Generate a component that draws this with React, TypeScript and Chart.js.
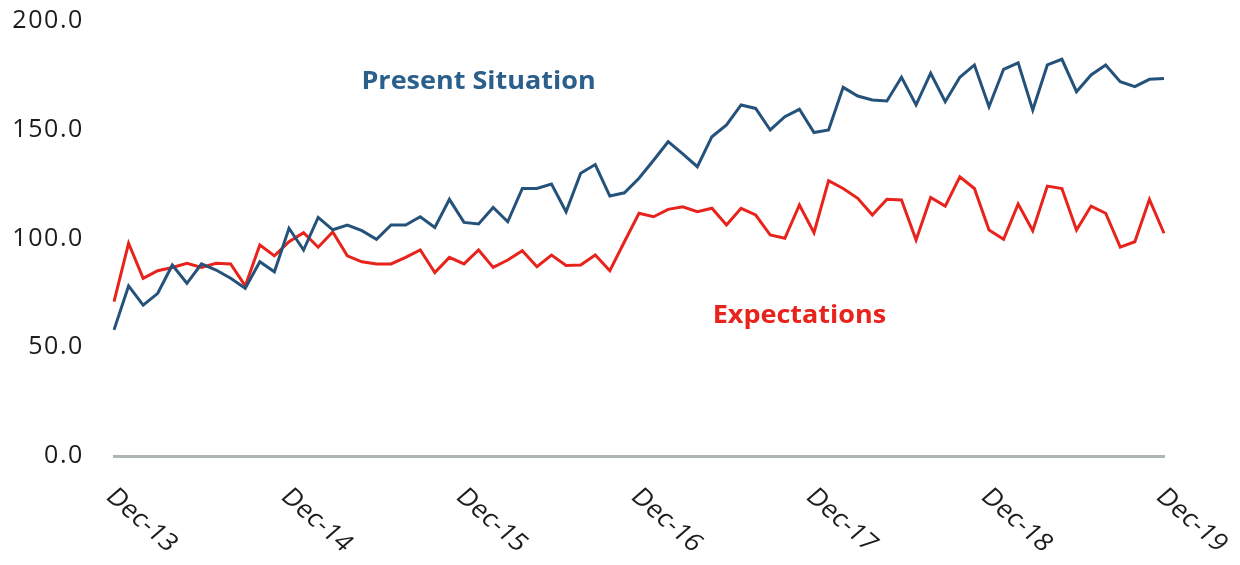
import React, { useEffect, useRef } from 'react';
import { Chart, registerables } from 'chart.js';

Chart.register(...registerables);

const MONTHS = ['Jan', 'Feb', 'Mar', 'Apr', 'May', 'Jun', 'Jul', 'Aug', 'Sep', 'Oct', 'Nov', 'Dec'];
const categories: string[] = [];
for (let i = 0; i < 73; i++) {
  const m = (11 + i) % 12;
  const y = 13 + Math.floor((11 + i) / 12);
  categories.push(`${MONTHS[m]}-${y}`);
}

const xTickLabels = ['Dec-13', 'Dec-14', 'Dec-15', 'Dec-16', 'Dec-17', 'Dec-18', 'Dec-19'];

const presentSituation = [
  58, 78.2, 69.4, 74.8, 87.8, 79.4, 88.3, 85.5, 81.7, 77.1, 89.3, 84.7,
  104.7, 94.7, 109.7, 104, 106.2, 103.6, 99.6, 106.2, 106.2, 110, 105.1, 118,
  107.4, 106.7, 114.3, 107.7, 123, 123, 125, 112.3, 130, 134, 119.5, 121,
  127.7, 136, 144.5, 138.9, 133, 146.8, 152.2, 161.4, 159.8, 149.9, 156, 159.4,
  148.7, 149.9, 169.5, 165.5, 163.7, 163.2, 174.1, 161.4, 176, 162.9, 174.1, 179.8,
  160.6, 177.8, 180.8, 159.1, 179.8, 182.4, 167.5, 175.2, 179.8, 172.1, 169.8, 173.2,
  173.6,
];

const expectations = [
  71, 97.8, 81.7, 85.2, 86.7, 88.6, 86.7, 88.6, 88.3, 78.2, 97, 92,
  98.5, 102.7, 96, 103, 92, 89.3, 88.3, 88.3, 91.3, 94.7, 84.3, 91.3,
  88.3, 94.7, 86.7, 90.1, 94.4, 87, 92.4, 87.6, 87.8, 92.4, 85.2, 98.5,
  111.6, 110, 113.4, 114.6, 112.3, 113.9, 106.2, 113.9, 110.8, 101.6, 100.1, 115.4,
  102.7, 126.6, 123, 118.5, 110.8, 118, 117.7, 99.3, 118.9, 114.9, 128.4, 123,
  103.9, 99.6, 115.9, 103.6, 124.1, 123, 103.9, 114.9, 111.6, 96, 98.5, 118,
  102.4,
];

const seriesNames = ['Present Situation', 'Expectations'];
const seriesColors = ['#25527a', '#e8231c'];
const labelColors = ['#2b5f8c', '#e8231c'];
// annotation anchors in data coordinates: [category index, value]
const labelAnchors = [
  [25, 172],
  [47, 64.5],
];

const yMin = 0;
const yMax = 200;
const yStep = 50;

const STRETCH = 1.15;

const customText = {
  id: 'customText',
  beforeDraw(chart: any) {
    (chart.ctx as any).letterSpacing = '1.6px';
  },
  afterDraw(chart: any) {
    const { ctx } = chart;
    const xs = chart.scales.x;
    const ys = chart.scales.y;
    (ctx as any).letterSpacing = '0px';
    ctx.save();
    // rotated x tick labels (clockwise)
    ctx.font = '24px "Open Sans"';
    ctx.fillStyle = '#1c1c1c';
    ctx.textAlign = 'left';
    ctx.textBaseline = 'middle';
    categories.forEach((c, i) => {
      if (!xTickLabels.includes(c)) return;
      const px = xs.getPixelForValue(i);
      ctx.save();
      ctx.translate(px - 4, ys.bottom + 37);
      ctx.scale(STRETCH, 1);
      ctx.rotate(Math.PI / 4);
      ctx.fillText(c, 0, 0);
      ctx.restore();
    });
    // series labels
    ctx.font = 'bold 25px "Open Sans"';
    ctx.textAlign = 'center';
    ctx.textBaseline = 'middle';
    seriesNames.forEach((name, k) => {
      const px = xs.getPixelForValue(labelAnchors[k][0]);
      const py = ys.getPixelForValue(labelAnchors[k][1]);
      ctx.save();
      ctx.translate(px, py);
      ctx.scale(1.08, 1);
      ctx.fillStyle = labelColors[k];
      ctx.fillText(name, 0, 0);
      ctx.restore();
    });
    ctx.restore();
  },
};

export default function App() {
  const ref = useRef<HTMLCanvasElement | null>(null);

  useEffect(() => {
    if (!ref.current) return;
    const chart = new Chart(ref.current, {
      type: 'line',
      data: {
        labels: categories,
        datasets: [
          {
            label: seriesNames[0],
            data: presentSituation,
            borderColor: seriesColors[0],
            backgroundColor: seriesColors[0],
            borderWidth: 3,
            pointRadius: 0,
            tension: 0,
          },
          {
            label: seriesNames[1],
            data: expectations,
            borderColor: seriesColors[1],
            backgroundColor: seriesColors[1],
            borderWidth: 3,
            pointRadius: 0,
            tension: 0,
          },
        ],
      },
      options: {
        animation: false,
        responsive: true,
        maintainAspectRatio: false,
        layout: { padding: { left: 0, right: 76, top: 21, bottom: 0 } },
        plugins: {
          legend: { display: false },
          tooltip: { enabled: false },
          title: { display: false },
        },
        scales: {
          x: {
            offset: false,
            grid: { display: false, drawTicks: false },
            border: { display: true, color: '#adb6b4', width: 3 },
            ticks: { display: false },
            afterFit: (scale: any) => {
              scale.height = 109;
              scale.paddingLeft = 0;
              scale.paddingRight = 0;
            },
          },
          y: {
            min: yMin,
            max: yMax,
            grid: { display: false, drawTicks: false },
            border: { display: false },
            ticks: {
              stepSize: yStep,
              padding: 30,
              color: '#1c1c1c',
              font: { family: '"Open Sans"', size: 25 },
              callback: (v: any) => Number(v).toFixed(1),
            },
            afterFit: (scale: any) => {
              scale.width = 114;
              scale.paddingTop = 0;
              scale.paddingBottom = 0;
            },
          },
        },
      },
      plugins: [customText],
    });
    return () => chart.destroy();
  }, []);

  return (
    <div style={{ position: 'fixed', left: 0, top: 0, width: 1240, height: 565, background: '#fff' }}>
      <canvas ref={ref} />
    </div>
  );
}
